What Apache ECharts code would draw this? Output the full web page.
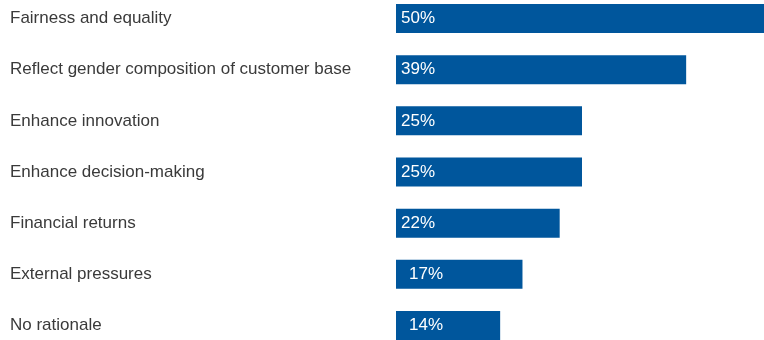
<!DOCTYPE html>
<html><head><meta charset="utf-8">
<script src="https://cdn.jsdelivr.net/npm/echarts@6/dist/echarts.min.js"></script>
<style>html,body{margin:0;padding:0;background:#fff;overflow:hidden}#c{position:absolute;left:0;top:-7px;width:768px;height:358px}</style>
</head><body><div id="c"></div>
<script>
var categories = ["Fairness and equality","Reflect gender composition of customer base","Enhance innovation","Enhance decision-making","Financial returns","External pressures","No rationale"];
var values = [50,39,25,25,22,17,14];
var labelIndent = [0,0,0,0,0,8,8];
var FONT = '"Liberation Sans Narrow","Liberation Sans",Arial,sans-serif';
var chart = echarts.init(document.getElementById('c'), null, {renderer:'canvas'});
chart.setOption({
  animation:false,
  grid:{left:396, right:0, top:0, bottom:0, containLabel:false},
  xAxis:{type:'value', min:0, max:50, show:false},
  yAxis:{type:'category', inverse:true, data:categories,
    axisLine:{show:false}, axisTick:{show:false}, splitLine:{show:false},
    axisLabel:{align:'left', margin:386, color:'#3a3a3a', fontSize:17, fontFamily:FONT}},
  series:[{type:'bar', barWidth:29, itemStyle:{color:'#00569c'},
    data: values.map(function(v,i){return {value:v, label:{offset:[labelIndent[i],0]}};}),
    label:{show:true, position:'insideLeft', distance:5, color:'#ffffff', fontSize:17, fontFamily:FONT,
      formatter:function(p){return p.value+'%';}}}]
});
</script></body></html>
